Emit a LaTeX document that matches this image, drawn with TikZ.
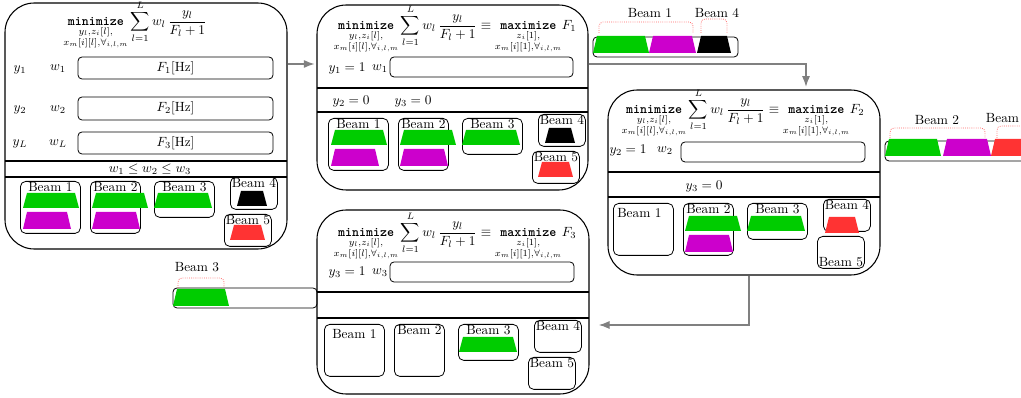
\documentclass[tikz,border=0pt]{standalone}
\usepackage{amsmath, amssymb}
\usepackage{xcolor}
\usepackage{tikz}
\usetikzlibrary{arrows.meta, fit}

\definecolor{beamgreen}{RGB}{0,204,0}
\definecolor{beammag}{RGB}{204,0,204}
\definecolor{beamred}{RGB}{255,51,51}

% objective of the full problem and of the single-frequency sub-problems
\newcommand\objmin{\mathop{\texttt{\textbf{minimize}}}_{\substack{y_l,z_i[l],\\ x_m[i][l],\forall_{i,l,m}}}
  \sum_{l=1}^{L} w_l\,\frac{y_l}{F_l+1}}
\newcommand\objmax[1]{\equiv{\mathop{\texttt{\textbf{maximize}}}_{\substack{z_i[1],\\ x_m[i][1],\forall_{i,l,m}}}}F_{#1}}

% trapezoid: colour, bottom left corner, bottom width, height
\newcommand\trap[4]{\fill[#1] (#2) -- ++(#3,0) -- ++(-4,-#4) -- ++({8-#3},0) -- cycle;}
% beam box: name, top left corner, size style, label
\newcommand\beambox[4]{\node[beambox,#3,label={#4}] (#1) at (#2) {};}

\tikzset{
  bigbox/.style={draw, line width=0.8pt, rounded corners=22pt, inner sep=0pt},
  inbox/.style={draw, line width=0.6pt, rounded corners=3pt, inner sep=0pt},
  beambox/.style={draw, line width=0.6pt, rounded corners=4pt, anchor=north west, inner sep=0pt},
  tallbox/.style={minimum width=45pt, minimum height=39pt},
  narrowbox/.style={minimum width=37.5pt, minimum height=39pt},
  midbox/.style={minimum width=45pt, minimum height=27pt},
  smallbox/.style={minimum width=35.25pt, minimum height=24pt},
  beamlbl/.style={anchor=north, inner sep=1pt},
  flow/.style={draw=black!50, line width=0.8pt, -{Latex[length=8pt,width=6pt]}},
  bracket/.style={draw=beamred!75, densely dotted, line width=0.6pt, rounded corners=3pt},
}

\begin{document}
\begin{tikzpicture}[x=0.75pt, y=-0.75pt]
  \useasboundingbox (0,0) rectangle (1021,398);

  % full problem
  \node[bigbox, fit={(5,3) (287,249)}] (A) {};
  \node (fa) at (135,25) {$\displaystyle\objmin$};
  \node (ya1) at (20,70) {$y_1$};
  \node (wa1) at (58,69) {$w_1$};
  \node[inbox, fit={(78,57) (273,79)}, label={center:$F_1[\mathrm{Hz}]$}] (fa1) {};
  \node (ya2) at (20,110) {$y_2$};
  \node (wa2) at (58,110) {$w_2$};
  \node[inbox, fit={(78,97) (273,120)}, label={center:$F_2[\mathrm{Hz}]$}] (fa2) {};
  \node (ya3) at (20,144) {$y_L$};
  \node (wa3) at (58,144) {$w_L$};
  \node[inbox, fit={(78,132) (273,154)}, label={center:$F_3[\mathrm{Hz}]$}] (fa3) {};
  \draw[line width=0.8pt] (5,161) -- (287,161);
  \node (order) at (150,169) {$w_1 \le w_2 \le w_3$};
  \draw[line width=0.8pt] (5,177) -- (287,177);
  \begin{scope}[shift={(20,181)}]
    \beambox{a1}{0,0}{tallbox}{[beamlbl]north:Beam 1}
    \beambox{a2}{70,0}{narrowbox}{[beamlbl]north:Beam 2}
    \beambox{a3}{134,0}{midbox}{[beamlbl]north:Beam 3}
    \beambox{a4}{210,-4}{smallbox}{[beamlbl]north:Beam 4}
    \beambox{a5}{204,33}{smallbox}{[beamlbl]north:Beam 5}
    \trap{beamgreen}{3,27}{56}{15}
    \trap{beammag}{3,48}{48}{17}
    \trap{beamgreen}{72,27}{56}{15}
    \trap{beammag}{72,48}{48}{17}
    \trap{beamgreen}{134,27}{58}{15}
    \trap{black}{217,25}{30}{15}
    \trap{beamred}{210,59}{35}{15}
  \end{scope}

  % frequency F_1
  \node[bigbox, fit={(317,5) (588,190)}] (B) {};
  \node (fb) at (455,29) {$\displaystyle\objmin\objmax{1}$};
  \node (yb1) at (347,69) {$y_1=1$};
  \node (wb1) at (380,69) {$w_1$};
  \node[inbox, fit={(390,57) (573,77)}] (fb1) {};
  \draw[line width=0.8pt] (317,88) -- (588,88);
  \node (yb2) at (351,102) {$y_2=0$};
  \node (yb3) at (413,102) {$y_3=0$};
  \draw[line width=0.8pt] (317,112) -- (588,112);
  \begin{scope}[shift={(328,118)}]
    \beambox{b1}{0,0}{tallbox}{[beamlbl]north:Beam 1}
    \beambox{b2}{70,0}{narrowbox}{[beamlbl]north:Beam 2}
    \beambox{b3}{134,0}{midbox}{[beamlbl]north:Beam 3}
    \beambox{b4}{210,-4}{smallbox}{[beamlbl]north:Beam 4}
    \beambox{b5}{204,33}{smallbox}{[beamlbl]north:Beam 5}
    \trap{beamgreen}{3,27}{56}{15}
    \trap{beammag}{3,48}{48}{17}
    \trap{beamgreen}{72,27}{56}{15}
    \trap{beammag}{72,48}{48}{17}
    \trap{beamgreen}{134,27}{58}{15}
    \trap{black}{217,25}{30}{15}
    \trap{beamred}{210,59}{35}{15}
  \end{scope}

  % frequency F_2
  \node[bigbox, fit={(608,90) (880,275)}] (C) {};
  \node (fc) at (743,113) {$\displaystyle\objmin\objmax{2}$};
  \node (yc2) at (628,151) {$y_2=1$};
  \node (wc2) at (665,151) {$w_2$};
  \node[inbox, fit={(681,142) (865,162)}] (fc2) {};
  \draw[line width=0.8pt] (608,172) -- (880,172);
  \node (yc3) at (704,187) {$y_3=0$};
  \draw[line width=0.8pt] (608,197) -- (880,197);
  \begin{scope}[shift={(613,203)}]
    \beambox{c1}{0,0}{tallbox}{[beamlbl,yshift=-3pt,xshift=-3pt]north:Beam 1}
    \beambox{c2}{70,0}{narrowbox}{[beamlbl]north:Beam 2}
    \beambox{c3}{134,0}{midbox}{[beamlbl]north:Beam 3}
    \beambox{c4}{210,-4}{smallbox}{[beamlbl]north:Beam 4}
    \beambox{c5}{204,33}{smallbox}{[beamlbl,anchor=south]south:Beam 5}
    \trap{beamgreen}{72,28}{56}{15}
    \trap{beammag}{72,49}{48}{17}
    \trap{beamgreen}{134,28}{58}{15}
    \trap{beamred}{212,30}{34}{16}
  \end{scope}

  % frequency F_3
  \node[bigbox, fit={(317,210) (589,394)}] (D) {};
  \node (fd) at (455,236) {$\displaystyle\objmin\objmax{3}$};
  \node (yd3) at (347,273) {$y_3=1$};
  \node (wd3) at (380,273) {$w_3$};
  \node[inbox, fit={(390,262) (574,282)}] (fd3) {};
  \draw[line width=0.8pt] (317,292) -- (589,292);
  \draw[line width=0.8pt] (317,318) -- (589,318);
  \begin{scope}[shift={(324,324)}]
    \beambox{d1}{0,0}{tallbox}{[beamlbl,yshift=-3pt]north:Beam 1}
    \beambox{d2}{70,0}{narrowbox}{[beamlbl]north:Beam 2}
    \beambox{d3}{134,0}{midbox}{[beamlbl]north:Beam 3}
    \beambox{d4}{210,-4}{smallbox}{[beamlbl]north:Beam 4}
    \beambox{d5}{204,33}{smallbox}{[beamlbl]north:Beam 5}
    \trap{beamgreen}{135,28}{58}{15}
  \end{scope}

  % beam strips
  \node[inbox, fit={(593,37) (738,57)}] (s1) {};
  \trap{beamgreen}{593,53}{56}{17}
  \trap{beammag}{649,53}{47}{17}
  \trap{black}{697,53}{34}{17}
  \draw[bracket] (599,33) |- (646,22) -| (693,33);
  \draw[bracket] (701,33) |- (714,19) -| (727,33);
  \node (s1a) at (650,13) {Beam 1};
  \node (s1b) at (717,13) {Beam 4};

  \node[inbox, fit={(885,141) (1040,161)}] (s2) {};
  \trap{beamgreen}{885,156}{56}{17}
  \trap{beammag}{943,156}{48}{17}
  \trap{beamred}{991,156}{48}{17}
  \draw[bracket] (890,138) |- (937,128) -| (985,138);
  \draw[bracket] (997,138) |- (1020,126) -| (1045,138);
  \node (s2a) at (937,120) {Beam 2};
  \node (s2b) at (1008,118) {Beam 4};

  \node[inbox, fit={(173,288) (317,308)}] (s3) {};
  \trap{beamgreen}{173,306}{56}{17}
  \draw[bracket] (178,288) |- (201,278) -| (224,288);
  \node (s3a) at (197,267) {Beam 3};

  % flow between the stages
  \coordinate (ab) at (0,64);
  \coordinate (bc) at (806,0);
  \coordinate (cd) at (749,325);
  \draw[flow, shorten >=1.5pt] (A.east |- ab) -- (B.west |- ab);
  \draw[flow, shorten >=2pt] (B.east |- ab) -| (C.north -| bc);
  \draw[flow, shorten >=7pt] (C.south -| cd) |- (D.east |- cd);
\end{tikzpicture}
\end{document}
